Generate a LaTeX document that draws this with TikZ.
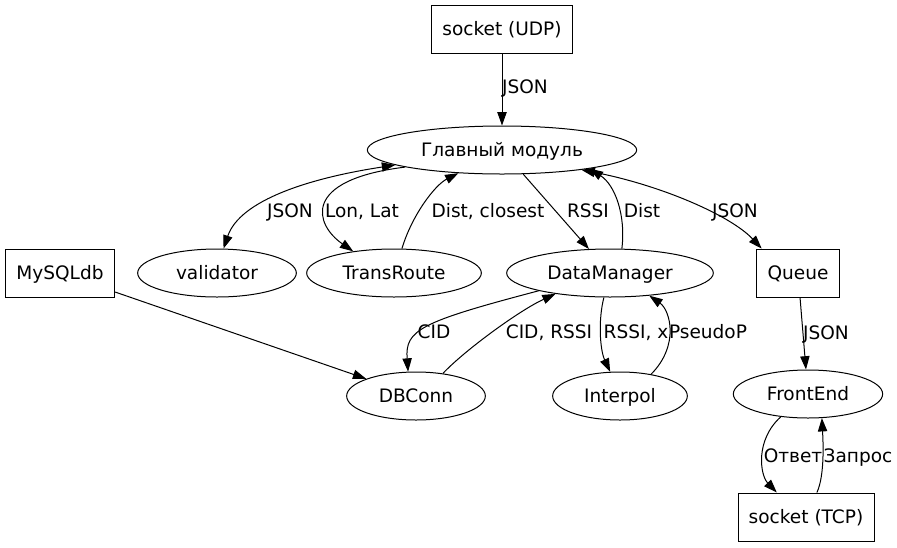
\documentclass[tikz,border=0pt]{standalone}
\usepackage{fontspec}
\setmainfont{DejaVu Sans}
\usetikzlibrary{shapes.geometric,arrows.meta}
\begin{document}
\begin{tikzpicture}[x=0.75pt,y=-0.75pt,line width=0.75pt,
		>={Triangle[length=10pt,width=7pt]},
		every node/.style={font=\fontsize{13.9}{16}\selectfont,text height=10pt,text depth=0pt},
		myell/.style={ellipse,draw,inner sep=0pt,minimum height=36pt},
		mybox/.style={rectangle,draw,inner sep=0pt,minimum height=36pt},
		mylabel/.style={inner sep=0pt}]
		
		\useasboundingbox (0,0) rectangle (897,547);
		
		\node[mybox,minimum width=106pt] (udp) at (502,29) {socket (UDP)};
		\node[myell,minimum width=202pt] (main) at (502,150) {Главный модуль};
		\node[mybox,minimum width=82pt] (mysql) at (60,273) {MySQLdb};
		\node[myell,minimum width=119pt] (validator) at (217,273) {validator};
		\node[myell,minimum width=131pt] (transroute) at (394,273) {TransRoute};
		\node[myell,minimum width=155pt] (dm) at (610,273) {DataManager};
		\node[mybox,minimum width=62pt] (queue) at (798,273) {Queue};
		\node[myell,minimum width=104pt] (dbconn) at (416,396) {DBConn};
		\node[myell,minimum width=101pt] (interpol) at (620,396) {Interpol};
		\node[myell,minimum width=112pt] (frontend) at (808,394) {FrontEnd};
		\node[mybox,minimum width=102pt] (tcp) at (806,517) {socket (TCP)};
		
		\draw[->]   (udp) -- (main) node[mylabel] at (525,87) {JSON};
		\draw[<->]  (main.188) .. controls (310,178) and (240,200) .. (validator.75) node[mylabel] at (290,211) {JSON};
		\draw[->]   (main.190) .. controls (300,180) and (315,225) .. (transroute.152) node[mylabel] at (362,211) {Lon, Lat};
		\draw[->]   (transroute.72) .. controls (412,215) and (435,185) .. (main.208) node[mylabel] at (488,211) {Dist, closest};
		\draw[->]   (main) -- (dm) node[mylabel] at (588,211) {RSSI};
		\draw[->]   (dm.64) .. controls (626,215) and (615,185) .. (main.348) node[mylabel] at (642,211) {Dist};
		\draw[<->]  (main.346) .. controls (660,185) and (730,215) .. (queue.146) node[mylabel] at (735,211) {JSON};
		\draw[->]   (mysql) -- (dbconn);
		\draw[->]   (dm.194) .. controls (420,322) and (405,330) .. (dbconn.108) node[mylabel] at (434,332) {CID};
		\draw[->]   (dbconn.40) .. controls (465,350) and (520,310) .. (dm.201) node[mylabel] at (549,332) {CID, RSSI};
		\draw[->]   (dm.256) .. controls (598,320) and (600,350) .. (interpol.112) node[mylabel] at (636,332) {RSSI, x};
		\draw[->]   (interpol.35) .. controls (680,345) and (670,310) .. (dm.330) node[mylabel] at (708,332) {PseudoP};
		\draw[->]   (queue) -- (frontend) node[mylabel] at (826,333) {JSON};
		\draw[->]   (frontend.220) .. controls (755,440) and (760,475) .. (tcp.140) node[mylabel] at (793,456) {Ответ};
		\draw[->]   (tcp.66) .. controls (825,475) and (823,440) .. (frontend.300) node[mylabel] at (858,456) {Запрос};
		\end{tikzpicture}
\end{document}
